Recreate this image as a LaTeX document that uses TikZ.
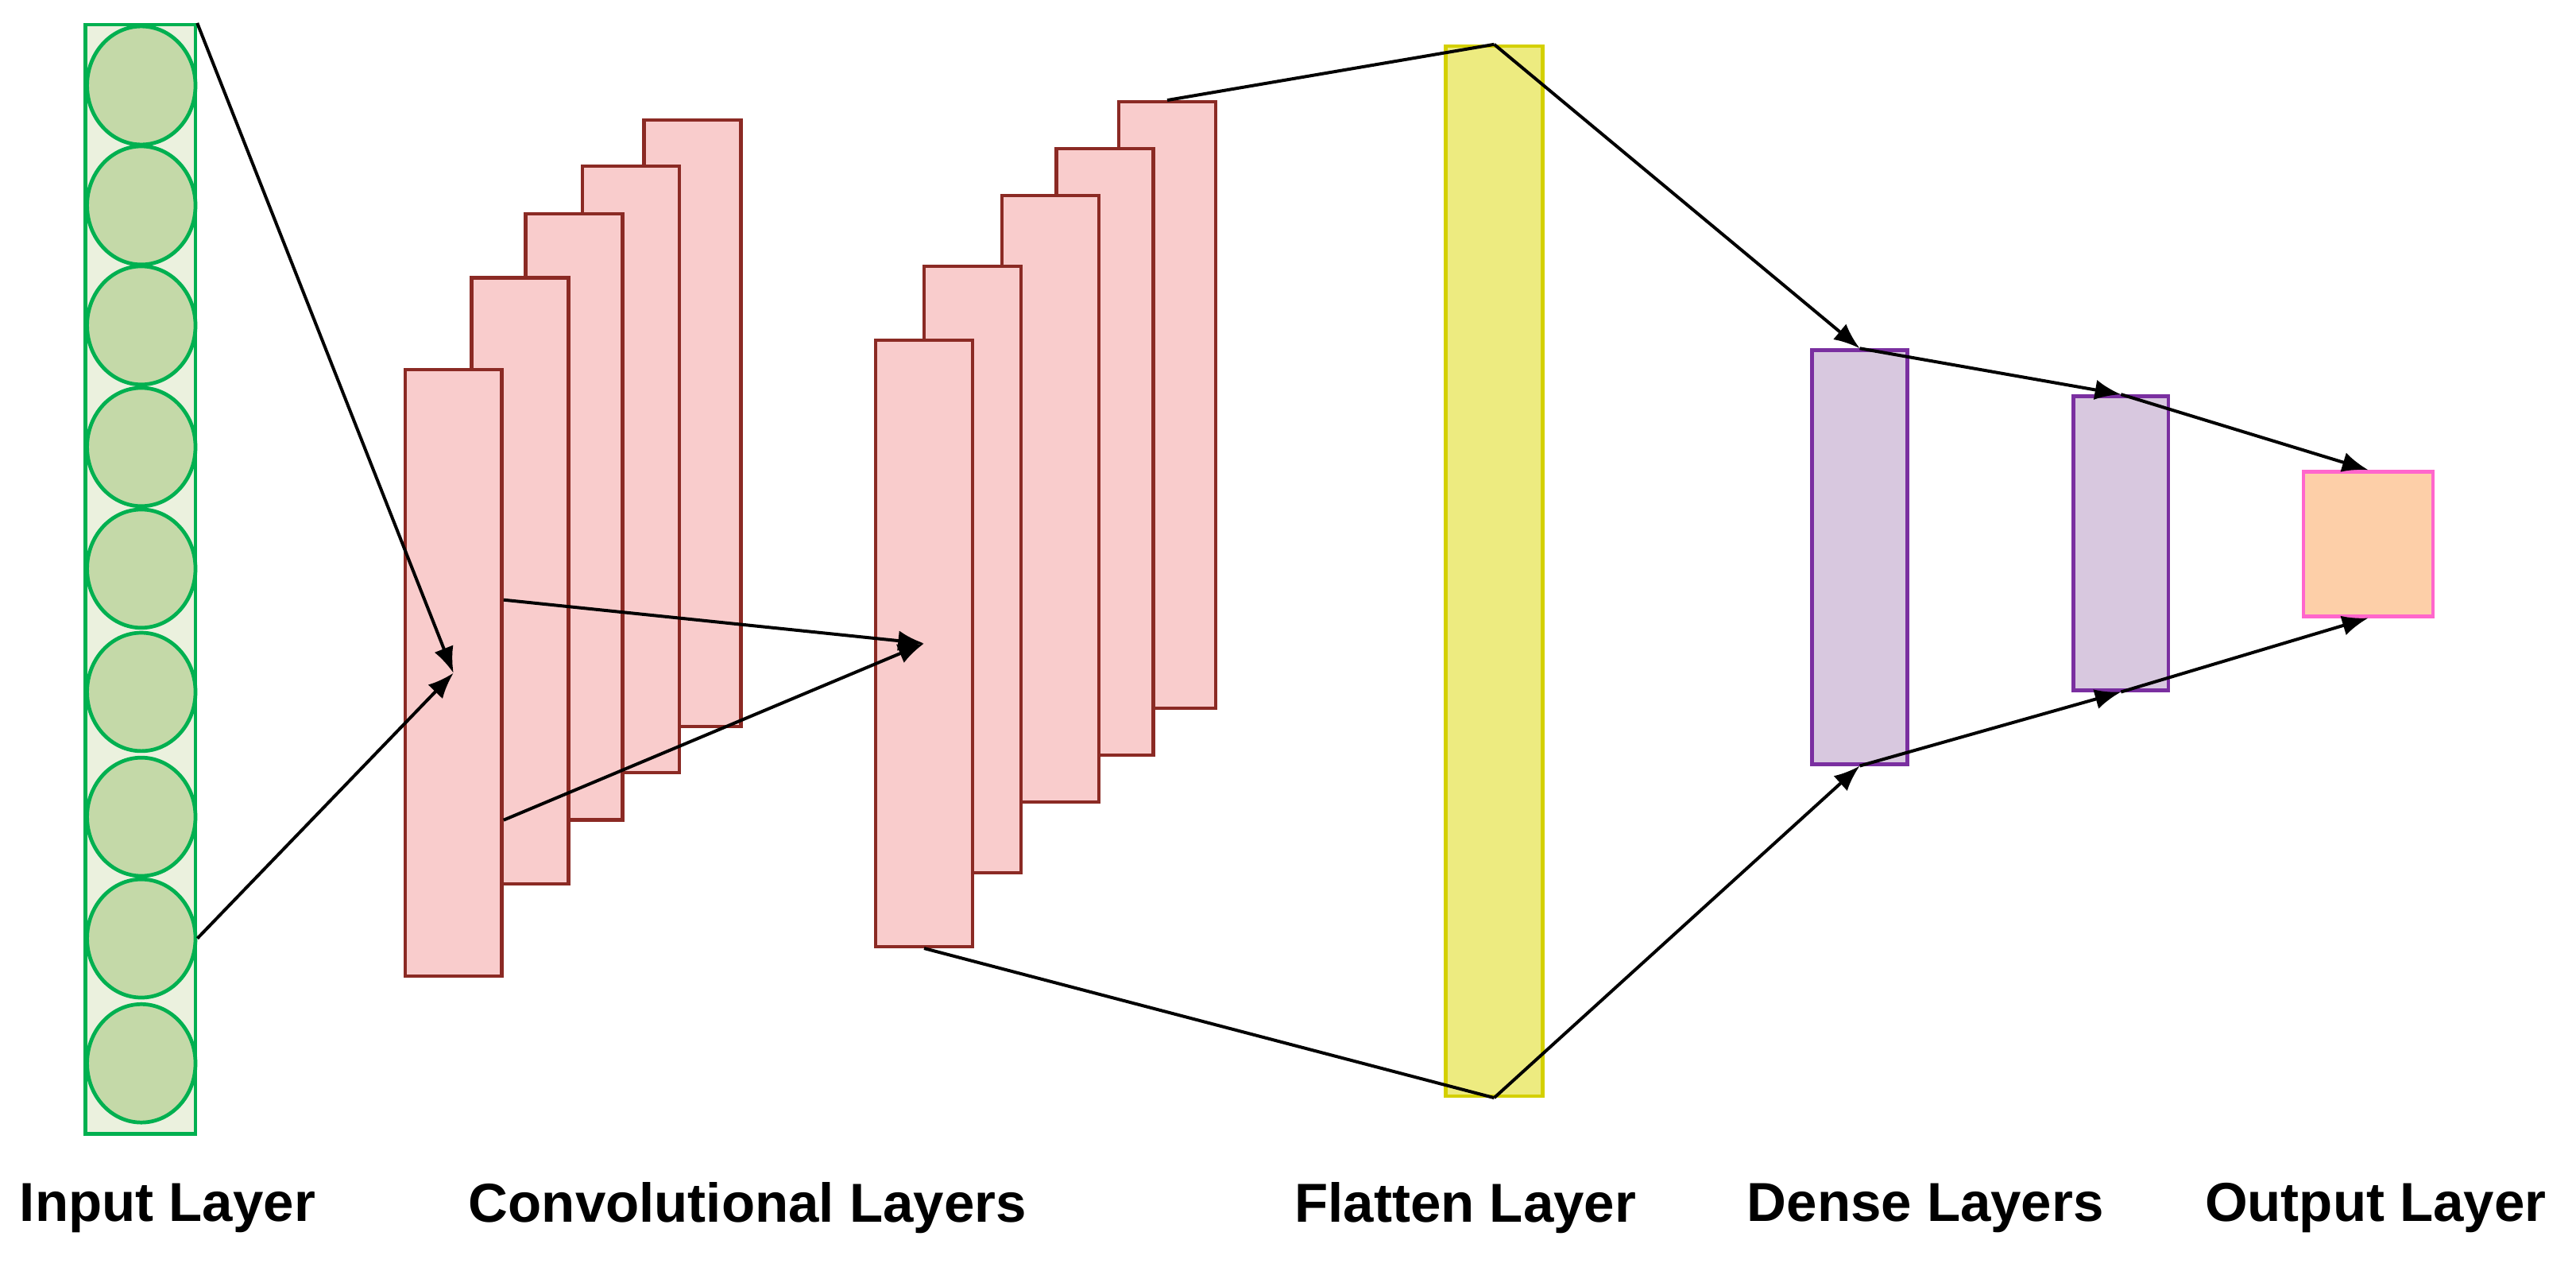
\documentclass[tikz,border=0pt]{standalone}
\usepackage{fontspec}
\setmainfont{Liberation Sans}
\usetikzlibrary{shapes.geometric,arrows.meta}
\definecolor{inborder}{HTML}{00B050}
\definecolor{infill}{HTML}{EBF1DE}
\definecolor{neuron}{HTML}{C4D9A8}
\definecolor{convborder}{HTML}{8B2A24}
\definecolor{convfill}{HTML}{F9CCCC}
\definecolor{flatborder}{HTML}{D4D000}
\definecolor{flatfill}{HTML}{EDEB80}
\definecolor{denseborder}{HTML}{7A2FA0}
\definecolor{densefill}{HTML}{D8C8DF}
\definecolor{outborder}{HTML}{FF66CC}
\definecolor{outfill}{HTML}{FDCFA8}
\tikzset{
  layer/.style={rectangle, draw, line width=1.2pt, inner sep=0pt},
  conv/.style={layer, draw=convborder, fill=convfill, minimum width=1.18cm, minimum height=7.38cm},
  neuron/.style={ellipse, draw=inborder, fill=neuron, line width=1.3pt, minimum width=1.32cm, minimum height=1.44cm, inner sep=0pt},
  link/.style={line width=1.1pt},
  flow/.style={link, -{Latex[length=9pt,width=7pt]}},
  caption/.style={font=\bfseries\fontsize{19}{22}\selectfont}
}
\begin{document}
\begin{tikzpicture}[x=0.02cm, y=-0.02cm]
  \useasboundingbox (0,0) rectangle (1568,773);
  % Input layer
  \node (in) [layer, draw=inborder, fill=infill, minimum width=1.34cm, minimum height=13.5cm] at (85.5,352.5) {};
  \foreach \i/\y in {1/52,2/125,3/198,4/272,5/346,6/421,7/497,8/571,9/647}
    \node (n\i) [neuron] at (86,\y) {};
  % Convolutional layers
  \node (c1) [conv] at (421.5,257.5) {};
  \node (c2) [conv] at (384,285.5) {};
  \node (c3) [conv] at (349.5,314.5) {};
  \node (c4) [conv] at (316.5,353.5) {};
  \node (c5) [conv] at (276,409.5) {};
  \node (d1) [conv] at (710.5,246.5) {};
  \node (d2) [conv] at (672.5,275) {};
  \node (d3) [conv] at (639.5,303.5) {};
  \node (d4) [conv] at (592,346.5) {};
  \node (d5) [conv] at (562.5,391.5) {};
  % Flatten, dense, output
  \node (flat) [layer, draw=flatborder, fill=flatfill, minimum width=1.18cm, minimum height=12.78cm] at (909.5,347.5) {};
  \node (dense1) [layer, draw=denseborder, fill=densefill, minimum width=1.16cm, minimum height=5.04cm] at (1132,339) {};
  \node (dense2) [layer, draw=denseborder, fill=densefill, minimum width=1.16cm, minimum height=3.58cm] at (1291,330.5) {};
  \node (out) [layer, draw=outborder, fill=outfill, minimum width=1.58cm, minimum height=1.76cm] at (1441.5,331) {};
  \coordinate (c5a) at ([yshift=-1.79cm]c5.east);
  \coordinate (c5b) at ([yshift=0.89cm]c5.east);
  % Arrows
  \draw[flow] (in.north east) -- (c5.center);
  \draw[flow] (n8.east) -- (c5.center);
  \draw[flow] (c5a) -- (d5.center);
  \draw[flow] (c5b) -- (d5.center);
  \draw[link] (d1.north) -- (flat.north);
  \draw[link] (d5.south) -- (flat.south);
  \draw[flow] (flat.north) -- (dense1.north);
  \draw[flow] (flat.south) -- (dense1.south);
  \draw[flow] (dense1.north) -- (dense2.north);
  \draw[flow] (dense1.south) -- (dense2.south);
  \draw[flow] (dense2.north) -- (out.north);
  \draw[flow] (dense2.south) -- (out.south);
  % Labels
  \node (lin) [caption] at (102,735) {Input Layer};
  \node (lconv) [caption] at (455,735) {Convolutional Layers};
  \node (lflat) [caption] at (892,735) {Flatten Layer};
  \node (ldense) [caption] at (1172,735) {Dense Layers};
  \node (lout) [caption] at (1446,735) {Output Layer};
\end{tikzpicture}
\end{document}
